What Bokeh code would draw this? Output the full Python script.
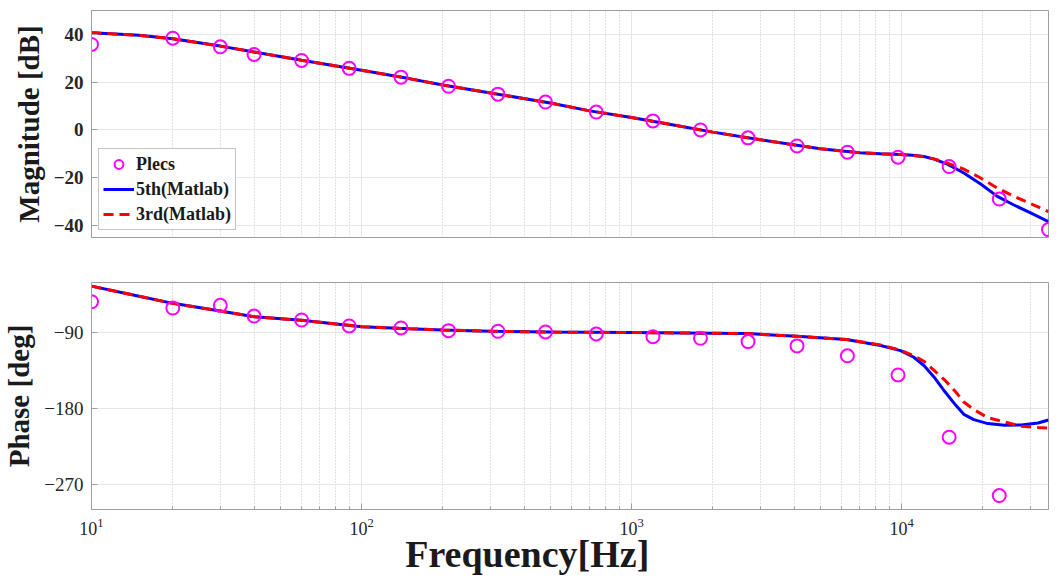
from bokeh.plotting import figure
from bokeh.layouts import column
from bokeh.models import Range1d, FixedTicker, Legend, LegendItem, CustomJSTickFormatter
from bokeh.embed import file_html
from bokeh.resources import INLINE

# Plecs simulation points
plecs_freq = [10, 20, 30, 40, 60, 90, 140, 210, 320, 480, 740, 1200, 1800, 2700,
              4100, 6300, 9700, 15000, 23000, 35000]
plecs_mag = [35.8, 38.4, 34.8, 31.6, 29.1, 25.8, 22.1, 18.3, 15.0, 11.7, 7.5, 3.8,
             0.0, -3.3, -6.7, -9.3, -11.4, -15.3, -28.9, -41.7]
plecs_phase_freq = plecs_freq[:19]
plecs_phase = [-52.9, -60.4, -57.2, -69.9, -74.6, -81.7, -84.1, -87.3, -88.0, -88.8,
               -91.2, -94.4, -96.3, -100.3, -105.4, -117.2, -140.0, -214.0, -283.4]

# Matlab model curves - magnitude
mag_freq = [10, 15, 20, 30, 40, 60, 100, 150, 200, 300, 500, 700, 1000, 1500, 2000,
            3000, 5000, 7000, 8360, 9910, 11000, 12100, 13200, 14770, 17000, 19630, 22620,
            26060, 30040, 35000]
mag_5th = [40.7, 39.6, 38.2, 35.1, 32.6, 29.2, 25.0, 21.5, 18.8, 15.5, 11.3, 8.0, 5.2,
           1.7, -0.9, -4.1, -7.9, -9.5, -10.0, -10.3, -10.6, -11.1, -12.2, -14.3, -18.0, -22.6,
           -27.8, -31.4, -34.7, -38.4]
mag_3rd = [40.7, 39.6, 38.2, 35.1, 32.6, 29.2, 25.0, 21.5, 18.8, 15.5, 11.3, 8.0, 5.2,
           1.7, -0.9, -4.1, -7.9, -9.5, -10.0, -10.3, -10.6, -11.2, -12.1, -13.9, -16.4, -20.1,
           -24.3, -27.8, -30.8, -34.2]

# Matlab model curves - phase
phase_freq = [10, 15, 20, 30, 40, 60, 100, 150, 200, 300, 500, 1000, 2000, 2700, 4100,
              6250, 8360, 9910, 11100, 12100, 13200, 14500, 15880, 17000, 18520, 20860,
              24100, 27800, 32000, 35000]
phase_5th = [-34.3, -46.3, -54.8, -64.0, -70.7, -75.0, -82.5, -85.0, -86.5, -88.0, -89.0,
             -89.5, -90.3, -90.8, -94.0, -97.9, -105.0, -111.0, -118.9, -128.7, -142.6,
             -160.3, -176.1, -186.8, -193.1, -197.8, -199.8, -199.4, -197.1, -193.5]
phase_3rd = [-34.3, -46.3, -54.8, -64.0, -70.7, -75.0, -82.5, -85.0, -86.5, -88.0, -89.0,
             -89.5, -90.3, -90.8, -94.0, -97.9, -104.2, -110.5, -117.0, -123.6, -134.6,
             -146.5, -160.3, -172.2, -181.2, -190.7, -195.9, -201.0, -202.5, -203.0]

mag_ticks = [-40, -20, 0, 20, 40]
phase_ticks = [-270, -180, -90]

SERIF = "Liberation Serif"
FRAME = "#9e9e9e"
MINUS_JS = "return tick < 0 ? '\\u2212' + Math.abs(tick) : tick.toString();"


def style(p, yticks, tick_bold):
    p.outline_line_color = FRAME
    p.outline_line_width = 1
    p.xgrid.grid_line_color = "#e6e6e6"
    p.xgrid.minor_grid_line_color = "#c4c4c4"
    p.xgrid.minor_grid_line_dash = "1 2"
    p.ygrid.grid_line_color = "#e6e6e6"
    p.yaxis.ticker = FixedTicker(ticks=yticks)
    p.yaxis.formatter = CustomJSTickFormatter(code=MINUS_JS)
    for ax in p.axis:
        ax.axis_line_color = FRAME
        ax.major_tick_line_color = FRAME
        ax.minor_tick_line_color = FRAME
        ax.major_tick_in = 6
        ax.major_tick_out = 0
        ax.minor_tick_in = 3
        ax.minor_tick_out = 0
        ax.major_label_text_color = "#262626"
        ax.major_label_text_font = SERIF
        ax.axis_label_text_font = SERIF
        ax.axis_label_text_font_style = "bold"
        ax.axis_label_text_color = "#1a1a1a"
    p.yaxis.minor_tick_line_color = None
    p.yaxis.major_label_text_font_size = "19px"
    p.yaxis.major_label_text_font_style = "bold" if tick_bold else "normal"
    p.yaxis.axis_label_text_font_size = "29px"
    p.yaxis.axis_label_standoff = 6
    p.yaxis.major_label_standoff = 8


# ---------------- Magnitude ----------------
p1 = figure(width=1056, height=250, x_axis_type="log", output_backend="svg",
            toolbar_location=None, x_range=Range1d(10, 35000), y_range=Range1d(-45, 50),
            min_border_left=91, min_border_right=8, min_border_top=10, min_border_bottom=13)
style(p1, mag_ticks, True)
p1.yaxis.axis_label = "Magnitude [dB]"
p1.xaxis.visible = False

b1 = p1.line(mag_freq, mag_5th, line_color="#0000ff", line_width=3)
r1 = p1.line(mag_freq, mag_3rd, line_color="#ff0000", line_width=3, line_dash="10 6")
c1 = p1.scatter(plecs_freq, plecs_mag, marker="circle", size=13, fill_color=None,
                line_color="#ff00ff", line_width=2)

legend = Legend(items=[LegendItem(label="Plecs", renderers=[c1]),
                       LegendItem(label="5th(Matlab)", renderers=[b1]),
                       LegendItem(label="3rd(Matlab)", renderers=[r1])],
                location=(7, 7), margin=0, padding=4, spacing=3,
                glyph_width=31, glyph_height=22, label_height=22, label_standoff=2,
                label_text_font=SERIF, label_text_font_style="bold",
                label_text_font_size="18px", label_text_color="#1a1a1a",
                border_line_color="#8c8c8c", background_fill_alpha=1.0)
p1.add_layout(legend)

# ---------------- Phase ----------------
p2 = figure(width=1056, height=328, x_axis_type="log", output_backend="svg",
            toolbar_location=None, x_range=p1.x_range, y_range=Range1d(-300, -30),
            min_border_left=91, min_border_right=8, min_border_top=32, min_border_bottom=69)
style(p2, phase_ticks, False)
p2.yaxis.axis_label = "Phase [deg]"
p2.xaxis.major_label_text_font_size = "18px"
p2.xaxis.major_label_standoff = 8
# trailing no-break spaces shift the centred label left, as in the reference
p2.xaxis.axis_label = "Frequency[Hz]" + "\u00a0" * 9
p2.xaxis.axis_label_text_font_size = "38px"
p2.xaxis.axis_label_standoff = -5

p2.line(phase_freq, phase_5th, line_color="#0000ff", line_width=3)
p2.line(phase_freq, phase_3rd, line_color="#ff0000", line_width=3, line_dash="10 6")
p2.scatter(plecs_phase_freq, plecs_phase, marker="circle", size=13, fill_color=None,
           line_color="#ff00ff", line_width=2)

layout = column(p1, p2, spacing=0)
open("out.html", "w").write(file_html(layout, INLINE))
